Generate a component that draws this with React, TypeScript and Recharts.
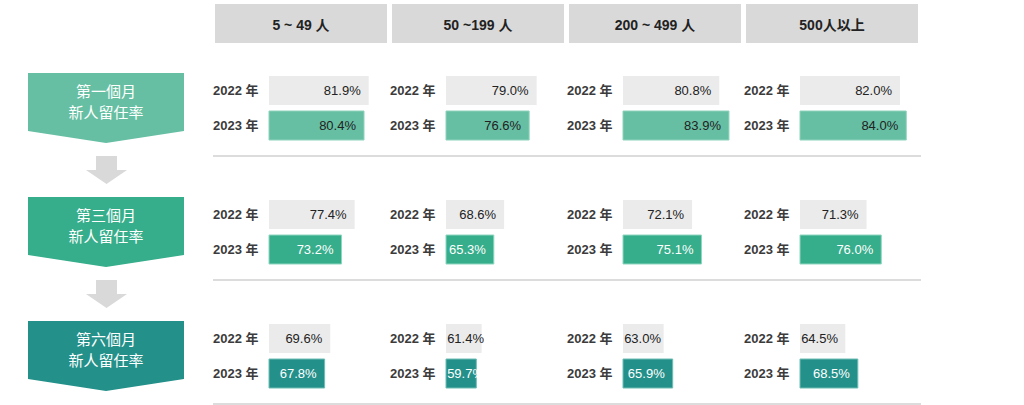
import { BarChart, Bar, XAxis, YAxis, Cell, LabelList } from "recharts";

const groups = ["5 ~ 49 人", "50 ~199 人", "200 ~ 499 人", "500人以上"];
const stages = ["第一個月", "第三個月", "第六個月"];
const years = ["2022 年", "2023 年"];

// rows = stage, columns = company size
const values2022 = [
  [81.9, 79.0, 80.8, 82.0],
  [77.4, 68.6, 72.1, 71.3],
  [69.6, 61.4, 63.0, 64.5],
];
const values2023 = [
  [80.4, 76.6, 83.9, 84.0],
  [73.2, 65.3, 75.1, 76.0],
  [67.8, 59.7, 65.9, 68.5],
];

const stageColors = ["#66bfa3", "#36ad8b", "#23908a"];
const stageStrokes = ["#8ed3bc", "#8fd6bf", "#6fbdb4"];
const labelColors2023 = ["#222", "#fff", "#fff"];

const FONT = "Arial, 'Noto Sans CJK TC', sans-serif";
const ROW_TOP = [73, 197, 321];
const COL_LEFT = [213, 390, 567, 744];
const HEADER_LEFT = [215, 392, 569, 746];

function YearTick(props: any) {
  const { y, payload } = props;
  return (
    <text x={0} y={y} dy="0.35em" fontFamily={FONT} fontSize={13} fontWeight="bold" fill="#3b3b3b">
      {payload.value}
    </text>
  );
}

function Cellchart({ row, col }: { row: number; col: number }) {
  const data = [
    { year: years[0], value: values2022[row][col] },
    { year: years[1], value: values2023[row][col] },
  ];
  const renderLabel = (p: any) => {
    const x = Number(p.x);
    const w = Number(p.width);
    const y = Number(p.y) + Number(p.height) / 2;
    const end = Math.max(x + w - 8, x + 38);
    return (
      <text
        x={end}
        y={y}
        dy="0.35em"
        textAnchor="end"
        fontFamily={FONT}
        fontSize={13}
        fill={p.index === 0 ? "#222" : labelColors2023[row]}
      >
        {Number(p.value).toFixed(1)}%
      </text>
    );
  };
  return (
    <div style={{ position: "absolute", left: COL_LEFT[col], top: ROW_TOP[row] }}>
      <BarChart width={181} height={70} data={data} layout="vertical" margin={{ top: 0, right: 0, bottom: 0, left: 0 }}>
        <XAxis type="number" domain={[50, 90]} hide />
        <YAxis type="category" dataKey="year" width={56} axisLine={false} tickLine={false} tick={YearTick} />
        <Bar dataKey="value" barSize={29} isAnimationActive={false}>
          <Cell fill="#ebebeb" />
          <Cell fill={stageColors[row]} stroke={stageStrokes[row]} strokeWidth={1} />
          <LabelList dataKey="value" content={renderLabel} />
        </Bar>
      </BarChart>
    </div>
  );
}

function LeftArrows() {
  return (
    <svg width={200} height={405} style={{ position: "absolute", left: 0, top: 0 }}>
      {stages.map((s, i) => {
        const t = ROW_TOP[i];
        return (
          <g key={s}>
            <polygon
              points={`28,${t} 184,${t} 184,${t + 58} 106,${t + 70} 28,${t + 58}`}
              fill={stageColors[i]}
            />
            <text x={106} y={t + 19} dy="0.35em" textAnchor="middle" fontFamily={FONT} fontSize={15} fill="#fff">
              {s}
            </text>
            <text x={106} y={t + 40} dy="0.35em" textAnchor="middle" fontFamily={FONT} fontSize={15} fill="#fff">
              新人留任率
            </text>
            {i < 2 && (
              <polygon
                points={`96,${t + 83} 117,${t + 83} 117,${t + 97} 127,${t + 97} 106.5,${t + 111} 86,${t + 97} 96,${t + 97}`}
                fill="#d9d9d9"
              />
            )}
          </g>
        );
      })}
    </svg>
  );
}

export default function App() {
  return (
    <div style={{ position: "absolute", left: 0, top: 0, width: 1024, height: 405, background: "#fff", overflow: "hidden" }}>
      {groups.map((g, i) => (
        <div
          key={g}
          style={{
            position: "absolute",
            left: HEADER_LEFT[i],
            top: 4,
            width: 172,
            height: 39,
            background: "#d9d9d9",
            display: "flex",
            alignItems: "center",
            justifyContent: "center",
            fontFamily: FONT,
            fontSize: 14,
            fontWeight: "bold",
            color: "#222",
          }}
        >
          {g}
        </div>
      ))}
      <LeftArrows />
      {ROW_TOP.map((t, r) => (
        <div
          key={r}
          style={{ position: "absolute", left: 213, top: t + 82, width: 708, height: 2, background: "#dcdcdc" }}
        />
      ))}
      {stages.map((_, r) => COL_LEFT.map((_, c) => <Cellchart key={`${r}-${c}`} row={r} col={c} />))}
    </div>
  );
}
